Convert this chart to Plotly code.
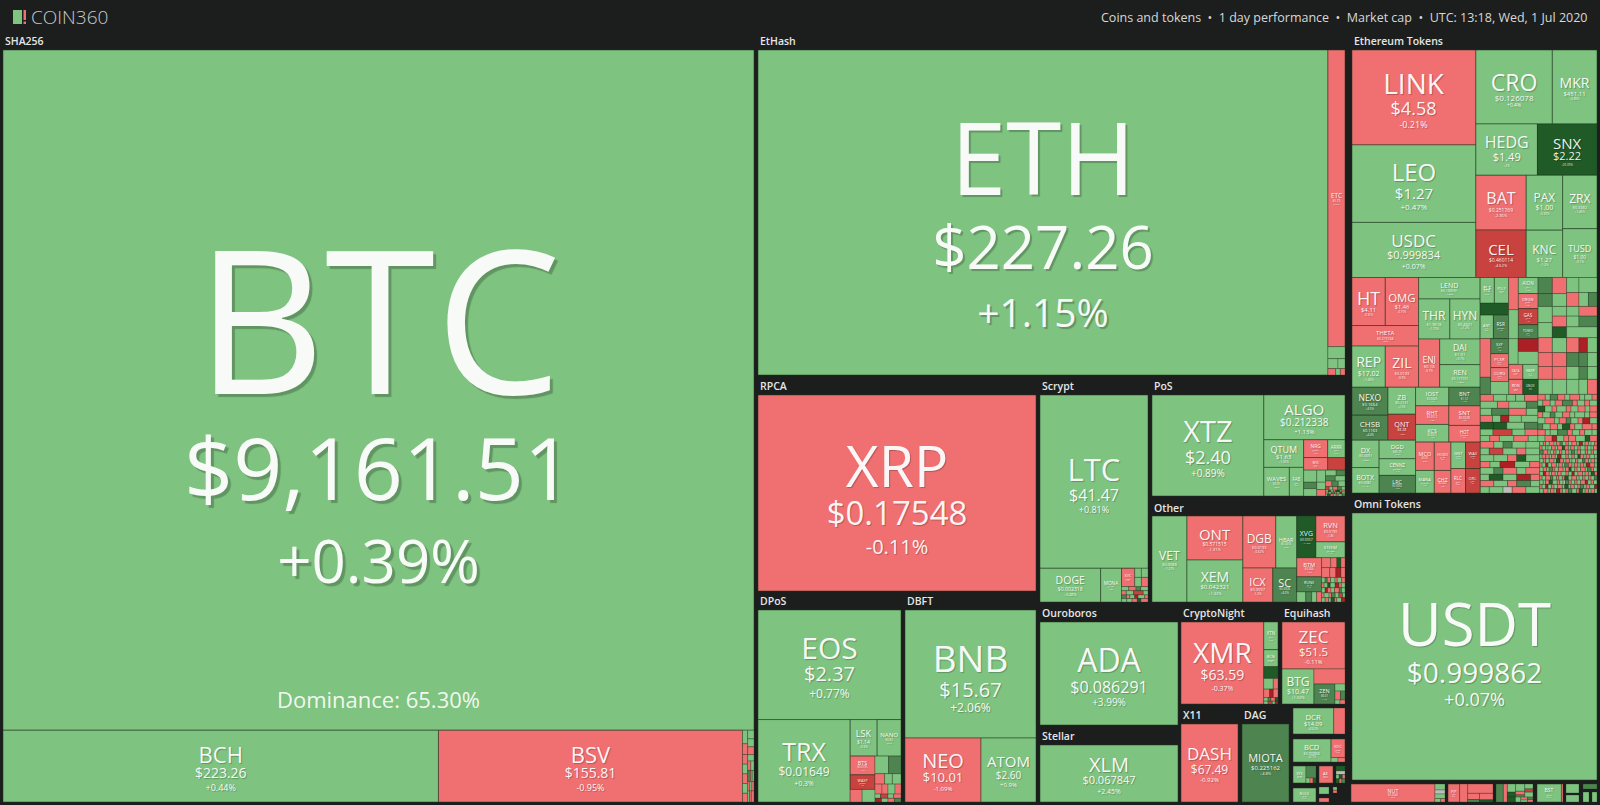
import math
import plotly.graph_objects as go

# tile = (symbol, price, 1 day change %, market cap in arbitrary units)
# nested lists flip direction on each level: across, down, across ...
TINY_CHANGE = {"g": 0.8, "r": -0.8, "G": 6, "R": -6, "D": 14, "E": -14, "o": 0}


def t(sizes, kinds, unit=1):
    if isinstance(sizes, str):
        sizes = [int(d) * unit for d in sizes]
    return [("", "", TINY_CHANGE[k], s) for s, k in zip(sizes, kinds)]


sha256_dust = [[
    [t([70], "g"), t([55], "r"), t([50], "r"), t([50], "g"), t([50], "r"), t([50], "g"), t([45], "r")],
    [t([55], "g"), t([50], "g"), t([50], "r"), t([40], "g"), t([30, 30], "rg"), t([30, 20, 20], "Grg"),
     t([20, 20, 20], "rgr"), t([20, 20, 30], "grr")],
]]
sha256_coins = [[
    ("BTC", "$9,161.51", 0.39, 510680),
    [("BCH", "$223.26", 0.44, 31248), ("BSV", "$155.81", -0.95, 21816), sha256_dust],
]]

ethash_coins = [
    ("ETH", "$227.26", 1.15, 185575),
    [("ETC", "$5.75", -0.21, 5066), t([204], "g"), t([100, 70], "gg"), t([50, 30, 30], "rgr")],
]

rpca_coins = [("XRP", "$0.17548", -0.11, 54488)]

scrypt_coins = [[
    ("LTC", "$41.47", 0.81, 18576),
    [("DOGE", "$0.002318", 0.48, 2030), ("MONA", "$1.66", 0.3, 700),
     [[("XVC", "$0.05", -0.4, 240), [t([60, 60], "gg"), t([60, 60], "gr")]],
      t("3323", "grGg", 10), t("2342", "rgRg", 10), t("323242", "GrgEgr", 6), t("33324", "ggrDr", 6)]],
]]

pos_dust = [
    [t([156], "g"), t([84], "G"), t([96], "g")],
    [t([104], "g"), t([64], "g"), t([56], "r")],
    [t([60, 50], "gG"), t([50, 50], "Gg"), t([36, 36, 38], "rGg"), t("33433", "RgrGg", 4),
     t("3232423", "gEgrDgr", 2), t("3332323", "rgGrgEg", 2), t("2333243", "gDrgrgG", 2)],
]
pos_coins = [
    ("XTZ", "$2.40", 0.89, 11211),
    [("ALGO", "$0.212338", 1.13, 3608),
     [[("QTUM", "$1.63", 1.02, 1092), [("WAVES", "$0.91", 0.6, 725), ("FAB", "$0.1", 0.5, 406)]],
      [[[("NRG", "$0.84", -0.6, 425), ("WVS", "$0.12", -0.9, 300)],
        [("ARRR", "$0.6", 0.7, 306), ("", "", -4.8, 216)]],
       pos_dust]]],
]

other_dust = [
    t([90, 60, 40, 40], "rrDr"), t([80, 60, 50, 40], "rrEr"), t("3234243", "gGrgrgr", 6),
    t("2324323", "rgDgErg", 6), t("3233423", "gErgrGg", 6), t("2423332", "rgrGgRg", 6), t("3323243", "grgDrgE", 5),
]
other_coins = [
    ("VET", "$0.0088", 1.27, 3010),
    [("ONT", "$0.571515", -1.31, 2464), ("XEM", "$0.042321", 1.32, 2352)],
    [[("DGB", "$0.0193", -0.62, 1716), ("HBAR", "$0.0355", 0.9, 1092)],
     [("ICX", "$0.3597", -1.2, 1020), ("SC", "$0.0026", 4.6, 816)]],
    [[("XVG", "$0.0057", 14.2, 798), [("RVN", "$0.0195", -1.4, 754), ("STEEM", "$0.1902", 1.1, 464)]],
     [[("BTM", "$0.064", -1.8, 475), ("RUNE", "$0.42", 4.9, 375), t([90, 60, 50, 50], "gGgr")],
      other_dust]],
]

dpos_rest = [
    [("BTS", "$0.0195", -1.1, 468), ("WAXP", "$0.0361", -5.2, 364), t([150, 162], "rg")],
    [t([240, 220], "gG"), t([100, 80, 90], "rgg"), t([70, 60, 70, 60], "rrgr"), t("3434", "gRgr", 8), t("3333", "EgrG", 8)],
]
dpos_coins = [[
    ("EOS", "$2.37", 0.77, 15730),
    [("TRX", "$0.01649", 0.3, 7626),
     [[("LSK", "$1.14", 0.9, 988), ("NANO", "$0.62", 0.7, 874)], dpos_rest]],
]]

dbft_coins = [[
    ("BNB", "$15.67", 2.06, 16768),
    [("NEO", "$10.01", -1.09, 4864), ("ATOM", "$2.60", 0.9, 3520)],
]]

ouroboros_coins = [("ADA", "$0.086291", 3.99, 14214)]
stellar_coins = [("XLM", "$0.067847", 2.45, 7866)]

cryptonight_coins = [
    ("XMR", "$63.59", -0.37, 6724),
    [("XTN", "$0.1", 0.5, 390), ("BCN", "$0.0002", 0.8, 240), t([165], "D"), t([100, 50], "gr"),
     t([50, 30, 40], "rEr"), t("3232", "gGrD", 5), t("3322", "gRgE", 4)],
]

equihash_coins = [[
    ("ZEC", "$51.5", -0.11, 2961),
    [("BTG", "$10.47", 1.02, 1120),
     [t([465], "r"), [("ZEN", "$6.01", 4.4, 420), [t([70], "g"), t([50, 40], "rG"), t([20, 20], "gr")]]]],
]]

x11_coins = [("DASH", "$67.49", -0.92, 4446)]
dag_coins = [("MIOTA", "$0.225162", 4.8, 3666)]

dcr_block = [("DCR", "$14.09", 0.62, 1040), ("", "", -0.7, 286)]
bcd_block = [("BCD", "$0.760966", 0.77, 851), [("XDC", "$0.05", -0.8, 252), t([30, 30], "gr")]]
bts_block = [("SYS", "$0.03", 0.5, 221), [t([120], "G"), t([20, 15, 15], "grD")]]
ae_block = [("AE", "$0.14", -0.8, 238)]
small_block = [[t([40], "D"), t([30], "o"), t([12, 12, 10], "gDr"), t([12, 10, 12], "DrG")]]
nuls_block = [("NULS", "$0.28", 0.5, 322)]
green_block = [t([70], "g")]
red_block = [t([40], "r")]
dot_block = [[t([12], "g"), t([10], "r")]]

nut_block = [("NUT", "$0.0044", -0.9, 1512), [t([60], "g"), t([40], "o"), t([45], "g"), t([20, 15], "gr")]]
pip_block = [("PIP", "$0.2", -0.5, 288), t([198], "r"), [t([324], "r"), [t([100, 40], "rG"), t([120, 40], "rD")]]]
msc_block = [t([198], "G"), t([108], "r"),
             [[t([100, 60], "gD"), t([100, 50, 30], "grG"), t([60, 40, 60], "gRg")],
              [t([60], "D"), t([40], "g"), t([30, 20], "rg"), t([20, 20], "Gr")]]]
bst_block = [("BST", "$0.3", 0.7, 440), t([28], "r")]
green_sq = [t([117], "g")]
green_sq2 = [t([90], "g")]
dark_bar = [t([70], "G")]
thin_a = [t([50], "g")]

link_col = [("LINK", "$4.58", -0.21, 11532), ("LEO", "$1.27", 0.47, 9424), ("USDC", "$0.999834", 0.07, 6696)]
big_tokens = [
    [("CRO", "$0.126078", 0.4, 5544), ("MKR", "$451.11", 0.89, 3240)],
    [("HEDG", "$1.49", 2, 3100), ("SNX", "$2.22", 20.39, 3000)],
    [[("BAT", "$0.251769", -2.36, 2703), ("CEL", "$0.460114", -4.62, 2346)],
     [("PAX", "$1.00", 0.39, 1961), ("KNC", "$1.27", 1.2, 1692)],
     [("ZRX", "$0.3382", 1.46, 1802), ("TUSD", "$1.00", 0.1, 1645)]],
]
mid_tokens_left = [
    [("HT", "$4.11", -0.35, 1568), ("OMG", "$1.46", -0.75, 1568)],
    ("THETA", "$0.219168", -1.02, 1344),
    [("REP", "$17.02", 1.46, 1344), ("ZIL", "$0.0193", -0.9, 1344)],
]
mid_tokens_right = [
    ("LEND", "$0.130591", 1.33, 1298),
    [("THR", "$1.9618", 1.73, 1230), ("HYN", "$0.4321", 1.2, 1189)],
    [("ENJ", "$0.18", -0.7, 1000),
     [("DAI", "$1.01", 0.7, 1014), ("REN", "$0.117101", 1.32, 897)]],
]
low_tokens_left = [
    [[("NEXO", "$0.1664", 4.5, 986), ("CHSB", "$0.1163", 4.4, 884)],
     [("ZB", "$0.2131", 1.5, 729), ("QNT", "$8.28", -4.3, 702)]],
    [[("DX", "$0.0091", 0.8, 728), ("BOTX", "$0.0081", 1.1, 676)],
     [("DGD", "$45.75", 0.9, 665), ("CENNZ", "$0.0521", 1.4, 595), ("LRC", "$0.0902", 4.3, 630)]],
]
low_tokens_right = [
    [[("IOST", "$0.0045", 1.4, 608), ("RHT", "$0.0512", -1.2, 608), ("KCS", "$0.8313", 1.5, 576)],
     [("BNT", "$1.12", 4.7, 570), ("SNT", "$0.0226", -1.5, 600), ("HOT", "$0.0008", -0.8, 510)]],
    [[("MCO", "$3.91", -0.8, 522), ("MANA", "$0.0476", 0.9, 414)],
     [("HUSD", "$1.00", -0.2, 464), ("CHZ", "$0.022", -1.2, 368)],
     [("GNT", "$0.05", 0.7, 378), ("RLC", "$0.7", -0.8, 350)],
     [("WAX", "$0.03", -4.5, 378), ("ORC", "$0.2", -4.8, 350)]],
]
tiny_col_a = [
    [("ELF", "$0.06", 0.7, 360), ("POLY", "$0.03", 0.9, 360)],
    t([330], "D"),
    [("ANT", "$1.2", 0.8, 308), ("RSR", "$0.005", 4.5, 352)],
    [[t([396], "r"), t([176], "G")],
     [("SXP", "$0.9", 4.8, 266), ("PCXR", "$0.3", -0.9, 247), ("CURG", "$0.2", -1.1, 247), t([228], "g")]],
]
tiny_col_b = [
    [[t([300], "r"), t([270], "g")],
     [("AION", "$0.1", 0.9, 315), ("DRGN", "$0.06", -0.8, 294), ("GAS", "$0.8", -4.7, 315), ("TOMO", "$0.7", 4.4, 273)]],
    [t([240], "g"), [t([252], "E"), t([252], "g")]],
    [[("DATA", "$0.02", -0.8, 210), ("RDN", "$0.2", -0.9, 210)],
     [("NMR", "$14", 0.7, 224), ("GNOX", "$0.5", 11.2, 224)]],
]
tiny_col_c = [
    [[t([225], "G"), t([180], "G"), t([225], "g"), t([210], "g")],
     [t([225], "r"), t([180], "g"), t([135], "g"), t([150], "r"), t([150], "D")],
     [t([182, 266], "gg"), t([169, 130, 117], "rgG"), t([117, 171], "gr"), t([130, 190], "gG"), t([320], "g")]],
    t([210, 210, 182, 126, 140], "rgrEg"),
    t([195, 195, 169, 117, 130], "rrGGg"),
    t([180, 180, 156, 108, 120], "rrgGg"),
    t([210, 210, 182, 126, 140], "ggggr"),
]
quad_1 = [
    t("33223", "rgggr", 30), t("3232", "grgG", 40), t("2332", "gGrg", 40),
    t("32234", "rgEgg", 28), t("3343", "DDgG", 30), t("2322", "gRgr", 40),
    t("22332", "grgrg", 28),
]
quad_2 = [
    t("323324232", "rgGrgrggr", 14), t("232342323", "grgrGrgrg", 14), t("332423323", "Dgrgrgrgr", 14),
    t("232332423", "rgGgrgggr", 14), t("342323233", "grgrGgrEg", 14), t("233232342", "GgrgDrgrr", 14),
    t("323423232", "rggGrgrgg", 14), t("332323423", "grEgrrgDr", 14),
]
quad_3 = [
    t("32233", "rgGgg", 30), t("23323", "gRgrg", 30), t("33223", "ggrDg", 30), t("22332", "rgEgr", 30),
    t("32323", "gGrgr", 30), t("23332", "gDgEr", 28), t("33232", "rgrGg", 28), t("23233", "ggorg", 28),
]
quad_4 = [
    t("323423232342323232", "grgrgrGgrgrgEgrggr", 5),
    t("232332423233242323", "rgggrgrDrgrgrgrggr", 5),
    t("342323233232342323", "GrggrgrgrgGgrgrgrg", 5),
    t("233232342323232342", "grrgrgEgrgrgDrgrgg", 5),
    t("323423323232423232", "grgrgDrgrggrgGrgrg", 5),
    t("232342323323232342", "rgEgrgrgGrgrgrgErg", 5),
    t("332323423232342323", "grgGrgrgrDgrgrgGrg", 5),
    t("323232342323423232", "gErgrgrgrgEgrgrgDr", 5),
    t("234232323342323232", "rgrGgrgrDgrggrgrgG", 5),
    t("323342323232342323", "ggrDgrgoGrgrgrEgrg", 5),
    t("232323423233232342", "rgEgrgrgDgrgrGgrgE", 5),
    t("342323232342323232", "grgrgErgrGgrDgrgrg", 5),
]
tokens_lower = [
    [[mid_tokens_left, mid_tokens_right], [low_tokens_left, low_tokens_right]],
    [[tiny_col_a, tiny_col_b, tiny_col_c], [quad_1, quad_2], [quad_3, quad_4]],
]
eth_tokens_coins = [[
    [link_col, big_tokens],
    tokens_lower,
]]

usdt_coins = [("USDT", "$0.999862", 0.07, 65170)]

# style only: font px per line (symbol, price, change) for the tiles with big text
LABEL_PX = {
    "BTC": (200, 86, 60), "ETH": (100, 60, 39), "XRP": (57, 33, 20), "USDT": (60, 28, 18),
    "LTC": (31, 16, 9), "XTZ": (29, 18, 10), "ADA": (32, 16, 10), "XLM": (20, 11, 7),
    "EOS": (30, 20, 12), "TRX": (25, 12, 7), "BNB": (37, 20, 12), "NEO": (20, 13, 6),
    "ATOM": (15, 10, 6), "BCH": (22, 14, 9), "BSV": (22, 14, 9), "XMR": (28, 14, 7),
    "DASH": (17, 12, 6), "MIOTA": (11, 6, 4), "ZEC": (18, 12, 6), "BTG": (12, 7, 4),
    "LINK": (28, 18, 9), "LEO": (24, 15, 8), "USDC": (17, 11, 7), "CRO": (23, 8, 5),
    "MKR": (14, 6, 3), "HEDG": (16, 11, 3), "SNX": (15, 11, 3), "BAT": (16, 5, 4),
    "PAX": (12, 7, 3), "ZRX": (12, 4, 3), "CEL": (15, 5, 4), "KNC": (12, 6, 3),
    "TUSD": (9, 5, 3), "HT": (18, 6, 3), "OMG": (12, 6, 3), "THETA": (9, 5, 3),
    "REP": (14, 7, 3), "ZIL": (14, 4, 3), "THR": (12, 4, 3), "HYN": (12, 4, 3),
    "DCR": (8, 6, 3), "BCD": (9, 4, 3), "ALGO": (15, 10, 6), "ONT": (15, 5, 4),
    "XEM": (14, 6, 4), "VET": (12, 4, 3), "DGB": (12, 4, 3), "ICX": (11, 4, 3), "SC": (11, 3, 3),
    "LSK": (9, 5, 3), "QTUM": (9, 6, 3),
}
# baseline gaps for the two biggest tiles, the rest follow the rule in tile_text
GAP_PX = {"BTC": (112, 77), "ETH": (72, 60)}
DOMINANCE = "Dominance: 65.30%"
BG = "#1c1e1e"
FONT = "Open Sans"

# (label, x0, y0, x1, y1 in page pixels) laid out like the site, then the coins inside
GROUPS = [
    ("SHA256", 3, 50, 754, 802, sha256_coins),
    ("EtHash", 758, 50, 1345, 375, ethash_coins),
    ("Ethereum Tokens", 1352, 50, 1597, 493, eth_tokens_coins),
    ("RPCA", 758, 395, 1036, 591, rpca_coins),
    ("Scrypt", 1040, 395, 1148, 602, scrypt_coins),
    ("PoS", 1152, 395, 1345, 496, pos_coins),
    ("Other", 1152, 516, 1345, 602, other_coins),
    ("Omni Tokens", 1352, 513, 1597, 780, usdt_coins),
    ("DPoS", 758, 610, 901, 802, dpos_coins),
    ("DBFT", 905, 610, 1036, 802, dbft_coins),
    ("Ouroboros", 1040, 622, 1178, 725, ouroboros_coins),
    ("Stellar", 1040, 745, 1178, 802, stellar_coins),
    ("CryptoNight", 1181, 622, 1278, 704, cryptonight_coins),
    ("Equihash", 1282, 622, 1345, 704, equihash_coins),
    ("X11", 1181, 724, 1238, 802, x11_coins),
    ("DAG", 1242, 724, 1289, 802, dag_coins),
    ("", 1293, 708, 1345, 734, dcr_block),
    ("", 1293, 739, 1345, 762, bcd_block),
    ("", 1293, 766, 1316, 783, bts_block),
    ("", 1319, 766, 1333, 783, ae_block),
    ("", 1336, 766, 1345, 783, small_block),
    ("", 1293, 788, 1316, 802, nuls_block),
    ("", 1319, 787, 1329, 794, green_block),
    ("", 1319, 798, 1329, 802, red_block),
    ("", 1333, 787, 1337, 793, dot_block),
    ("", 1351, 784, 1445, 802, nut_block),
    ("", 1448, 784, 1493, 802, pip_block),
    ("", 1496, 784, 1533, 802, msc_block),
    ("", 1537, 784, 1563, 802, bst_block),
    ("", 1566, 784, 1579, 793, green_sq),
    ("", 1566, 795, 1579, 802, green_sq2),
    ("", 1583, 784, 1597, 789, dark_bar),
    ("", 1583, 792, 1589, 802, thin_a),
    ("", 1592, 792, 1597, 802, thin_a),
]
LABEL_Y = {"Other": 507.5, "Omni Tokens": 504.5}


def tile_color(change):
    if change == 0:
        return "#bdbdbd"
    if change >= 10:
        return "#1f5a27"
    if change >= 4:
        return "#4e8450"
    if change > 0:
        return "#7fc380"
    if change <= -10:
        return "#ac1f24"
    if change <= -4:
        return "#c8423f"
    return "#f07072"


def tile_text(sym, price, change, value):
    if not sym:
        return "", 10, 1
    if sym in LABEL_PX:
        a, b, c = LABEL_PX[sym]
    else:
        a = min(0.27 * math.sqrt(value), 60 / len(sym) * 0.7)
        b, c = a * 0.5, a * 0.35
    # baseline gaps, the big symbol sits further above its baseline than the price does
    d1, d2 = GAP_PX.get(sym, (0.53 * (a + b) - 0.36 * (a - b), 0.6 * (b + c) - 0.36 * (b - c)))
    u = max((d1 + d2) / 16, 1.3)
    n1, n2 = max(1, round(d1 / u)), max(1, round(d2 / u))
    span = '<span style="font-size:%.1fpx">%s</span>'
    txt = span % (a, sym)
    if price:
        txt += "<br>" * n1 + span % (b, price) + "<br>" * n2 + span % (c, "%+g%%" % change)
    return txt, u / 1.3, max(1, round(a / 60))


def walk(node, parent, out):
    if isinstance(node, tuple):
        sym, price, change, value = node
        txt, base, drop = tile_text(*node)
        nid = "n%d" % len(out["ids"])
        out["ids"].append(nid)
        out["parents"].append(parent)
        out["values"].append(value)
        out["colors"].append(tile_color(change))
        out["text"].append(txt)
        out["size"].append(base)
        out["shadow"].append("%dpx %dpx 1px rgba(0,0,0,0.25)" % (drop, drop))
        out["lw"].append(1 if sym else 0.6)
        return value
    nid = "n%d" % len(out["ids"])
    idx = len(out["ids"])
    out["ids"].append(nid)
    out["parents"].append(parent)
    out["values"].append(0)
    out["colors"].append("rgba(0,0,0,0)")
    out["text"].append("")
    out["size"].append(10)
    out["shadow"].append("none")
    out["lw"].append(0)
    total = sum(walk(child, nid, out) for child in node)
    out["values"][idx] = total
    return total


W, H = 1600, 805
fig = go.Figure()
annotations = []
for name, x0, y0, x1, y1, coins in GROUPS:
    out = {"ids": [], "parents": [], "values": [], "colors": [], "text": [], "size": [], "shadow": [], "lw": []}
    walk(coins, "", out)
    fig.add_trace(go.Treemap(
        ids=out["ids"], labels=out["ids"], parents=out["parents"], values=out["values"],
        branchvalues="total", sort=False, text=out["text"], textinfo="text",
        textposition="middle center", hoverinfo="skip",
        textfont=dict(family=FONT, color="rgba(255,255,255,0.95)", size=out["size"], weight=400,
                      shadow=out["shadow"]),
        marker=dict(colors=out["colors"], pad=dict(t=0, l=0, r=0, b=0), depthfade=False,
                    line=dict(color="rgba(30,55,30,0.5)", width=out["lw"])),
        tiling=dict(packing="slice-dice", pad=0),
        pathbar=dict(visible=False), root=dict(color="rgba(0,0,0,0)"),
        domain=dict(x=[x0 / W, x1 / W], y=[1 - y1 / H, 1 - y0 / H]),
    ))
    if name:
        annotations.append(dict(
            text=name, x=x0 / W, y=1 - LABEL_Y.get(name, y0 - 8.8) / H, xref="paper", yref="paper",
            xanchor="left", yanchor="middle", showarrow=False,
            font=dict(family=FONT, size=10.5, color="#e6e6e6", weight=600),
        ))

annotations.append(dict(text=DOMINANCE, x=378 / W, y=1 - 699 / H, xref="paper", yref="paper", showarrow=False,
                        xanchor="center", yanchor="middle",
                        font=dict(family=FONT, size=22, color="rgba(255,255,255,0.9)", weight=400)))
annotations.append(dict(text="COIN360", x=29 / W, y=1 - 17 / H, xref="paper", yref="paper", xanchor="left",
                        yanchor="middle", showarrow=False, font=dict(family=FONT, size=19, color="#c8c8c8", weight=300)))
annotations.append(dict(text="Coins and tokens  •  1 day performance  •  Market cap  •  UTC: 13:18, Wed, 1 Jul 2020",
                        x=1590 / W, y=1 - 17.5 / H, xref="paper", yref="paper", xanchor="right", yanchor="middle",
                        showarrow=False, font=dict(family=FONT, size=12.5, color="#d8d8d8")))

logo = [(13, 10, 22, 24, "#7fc380"), (23.5, 10, 26, 20, "#f07072"), (23.5, 21.5, 26, 24, "#f07072")]
shapes = [dict(type="rect", xref="paper", yref="paper", x0=a / W, x1=c / W, y0=1 - b / H, y1=1 - d / H,
               fillcolor=col, line=dict(width=0)) for a, b, c, d, col in logo]

fig.update_layout(width=W, height=H, margin=dict(l=0, r=0, t=0, b=0), paper_bgcolor=BG, plot_bgcolor=BG,
                  annotations=annotations, shapes=shapes, showlegend=False)
fig.write_html("out.html", config={"displayModeBar": False},
               post_script="document.body.style.margin='0';document.body.style.background='%s';" % BG)
